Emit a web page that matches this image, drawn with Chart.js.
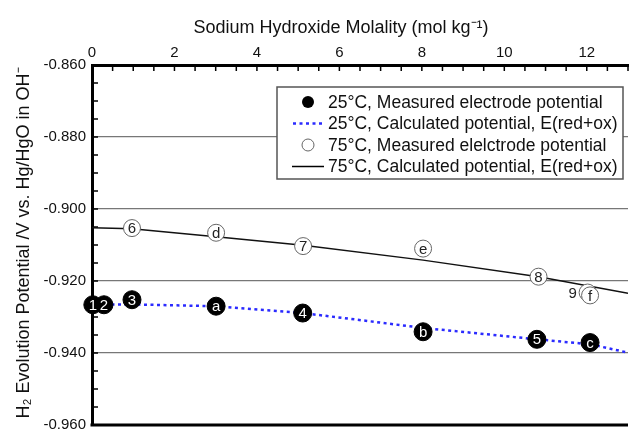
<!DOCTYPE html>
<html>
<head>
<meta charset="utf-8">
<script src="https://cdn.jsdelivr.net/npm/chart.js@4.4.0/dist/chart.umd.min.js"></script>
<style>
  html, body { margin: 0; padding: 0; background: #fff; }
</style>
</head>
<body>
<canvas id="chart" width="638" height="435"></canvas>
<script>
// tick labels
const xTicks = [0, 2, 4, 6, 8, 10, 12];
const yTicks = [-0.86, -0.88, -0.90, -0.92, -0.94, -0.96];

// 25°C measured electrode potential (filled circles)
const meas25X = [0.02, 0.29, 0.97, 3.01, 5.11, 8.03, 10.79, 12.08];
const meas25Y = [-0.9266, -0.9266, -0.9252, -0.9270, -0.9289, -0.9341, -0.9362, -0.9371];
const meas25Labels = ["1", "2", "3", "a", "4", "b", "5", "c"];

// 75°C measured electrode potential (open circles)
const meas75X = [0.97, 3.01, 5.12, 8.03, 10.83, 12.02, 12.08];
const meas75Y = [-0.9053, -0.9066, -0.9103, -0.9110, -0.9188, -0.9232, -0.9240];
const meas75Labels = ["6", "d", "7", "e", "8", "9", "f"];

// calculated potentials, E(red+ox)
const calc25X = [0, 0.3, 1, 3, 5.1, 6.4, 8, 10.8, 12.1, 13];
const calc25Y = [-0.9266, -0.9265, -0.9265, -0.9270, -0.9289, -0.9307, -0.9330, -0.9362, -0.9376, -0.9399];
const calc75X = [0, 0.97, 3.01, 5.12, 8.03, 10.83, 13];
const calc75Y = [-0.9052, -0.9055, -0.9077, -0.9101, -0.9142, -0.9188, -0.9234];

const legendLabels = [
  "25°C, Measured electrode potential",
  "25°C, Calculated potential, E(red+ox)",
  "75°C, Measured elelctrode potential",
  "75°C, Calculated potential, E(red+ox)"
];

const FONT = "'Liberation Sans', Arial, Helvetica, sans-serif";
const BLUE = "#2b2bff";

function toPoints(xs, ys) {
  return xs.map((x, i) => ({ x: x, y: ys[i] }));
}

// inward minor ticks, bottom frame line
const framePlugin = {
  id: "frame",
  beforeDatasetsDraw(chart) {
    const ctx = chart.ctx;
    const area = chart.chartArea;
    const xs = chart.scales.x;
    const ys = chart.scales.y;
    ctx.save();
    ctx.strokeStyle = "#000";
    ctx.lineWidth = 1.5;
    ctx.beginPath();
    for (let v = 0.5; v <= 13; v += 0.5) {
      const px = xs.getPixelForValue(v);
      ctx.moveTo(px, area.top);
      ctx.lineTo(px, area.top + 6);
    }
    for (let k = 1; k < 20; k++) {
      const py = ys.getPixelForValue(-0.86 - k * 0.005);
      ctx.moveTo(area.left, py);
      ctx.lineTo(area.left + 6, py);
    }
    ctx.stroke();
    ctx.lineWidth = 3;
    ctx.beginPath();
    ctx.moveTo(area.left - 1.5, area.bottom);
    ctx.lineTo(area.right, area.bottom);
    ctx.stroke();
    ctx.restore();
  }
};

// numbers / letters inside the circles
const pointLabelPlugin = {
  id: "pointLabels",
  afterDatasetsDraw(chart) {
    const ctx = chart.ctx;
    ctx.save();
    ctx.font = "15px " + FONT;
    ctx.textAlign = "center";
    ctx.textBaseline = "middle";
    chart.data.datasets.forEach((ds, di) => {
      if (!ds.pointLabels) return;
      const meta = chart.getDatasetMeta(di);
      meta.data.forEach((pt, i) => {
        const lab = ds.pointLabels[i];
        ctx.fillStyle = ds.labelColor;
        let dx = 0;
        if (lab === "9") { dx = -15; ctx.fillStyle = "#222"; }
        ctx.fillText(lab, pt.x + dx, pt.y + 1);
      });
    });
    ctx.restore();
  }
};

// axis titles and the boxed legend
const annotPlugin = {
  id: "annot",
  afterDraw(chart) {
    const ctx = chart.ctx;
    ctx.save();
    ctx.fillStyle = "#111";
    ctx.font = "18px " + FONT;
    ctx.textAlign = "center";
    ctx.textBaseline = "middle";
    ctx.fillText("Sodium Hydroxide Molality (mol kg\u207B\u00B9)", 341, 28);

    ctx.save();
    ctx.translate(24, 243);
    ctx.rotate(-Math.PI / 2);
    ctx.fillText("H\u2082 Evolution Potential /V vs. Hg/HgO in OH\u207B", 0, 0);
    ctx.restore();

    // legend
    const bx = 277, by = 87, bw = 346, bh = 92;
    ctx.fillStyle = "#fff";
    ctx.fillRect(bx, by, bw, bh);
    ctx.strokeStyle = "#555";
    ctx.lineWidth = 1.5;
    ctx.strokeRect(bx, by, bw, bh);

    const rowY = [102, 123.5, 145, 166.5];
    const symX = 308;
    ctx.font = "17.5px " + FONT;
    ctx.textAlign = "left";
    ctx.fillStyle = "#111";
    legendLabels.forEach((t, i) => ctx.fillText(t, 328, rowY[i] + 1));

    ctx.fillStyle = "#000";
    ctx.beginPath();
    ctx.arc(symX, rowY[0], 6, 0, Math.PI * 2);
    ctx.fill();

    ctx.strokeStyle = BLUE;
    ctx.lineWidth = 2.5;
    ctx.setLineDash([3, 3.5]);
    ctx.beginPath();
    ctx.moveTo(293, rowY[1]);
    ctx.lineTo(323, rowY[1]);
    ctx.stroke();
    ctx.setLineDash([]);

    ctx.strokeStyle = "#666";
    ctx.lineWidth = 1;
    ctx.beginPath();
    ctx.arc(symX, rowY[2], 6, 0, Math.PI * 2);
    ctx.stroke();

    ctx.strokeStyle = "#000";
    ctx.lineWidth = 1.5;
    ctx.beginPath();
    ctx.moveTo(292, rowY[3]);
    ctx.lineTo(324, rowY[3]);
    ctx.stroke();
    ctx.restore();
  }
};

new Chart(document.getElementById("chart"), {
  type: "scatter",
  data: {
    datasets: [
      {
        label: legendLabels[0],
        data: toPoints(meas25X, meas25Y),
        pointLabels: meas25Labels,
        labelColor: "#fff",
        pointRadius: 9,
        pointBackgroundColor: "#000",
        pointBorderColor: "#000",
        clip: false,
        order: 1
      },
      {
        label: legendLabels[1],
        data: toPoints(calc25X, calc25Y),
        showLine: true,
        pointRadius: 0,
        borderColor: BLUE,
        borderWidth: 2.5,
        borderDash: [3, 3.5],
        tension: 0,
        order: 3
      },
      {
        label: legendLabels[2],
        data: toPoints(meas75X, meas75Y),
        pointLabels: meas75Labels,
        labelColor: "#222",
        pointRadius: 8.5,
        pointBackgroundColor: "#fff",
        pointBorderColor: "#666",
        pointBorderWidth: 1,
        clip: false,
        order: 2
      },
      {
        label: legendLabels[3],
        data: toPoints(calc75X, calc75Y),
        showLine: true,
        pointRadius: 0,
        borderColor: "#111",
        borderWidth: 1.5,
        tension: 0,
        order: 4
      }
    ]
  },
  options: {
    responsive: false,
    animation: false,
    layout: { padding: { left: 0, top: 0, right: 0, bottom: 7 } },
    plugins: {
      legend: { display: false },
      tooltip: { enabled: false }
    },
    scales: {
      x: {
        type: "linear",
        position: "top",
        min: 0,
        max: 13,
        afterBuildTicks: s => { s.ticks = xTicks.map(v => ({ value: v })); },
        afterFit: s => { s.height = 65; s.paddingLeft = 0; s.paddingRight = 0; },
        grid: { display: false, drawTicks: false },
        border: { display: true, color: "#000", width: 3 },
        ticks: {
          padding: 3,
          color: "#111",
          font: { family: FONT, size: 15 },
          maxRotation: 0,
          autoSkip: false
        }
      },
      y: {
        type: "linear",
        min: -0.96,
        max: -0.86,
        afterBuildTicks: s => { s.ticks = yTicks.map(v => ({ value: v })); },
        afterFit: s => { s.width = 92; s.paddingTop = 0; s.paddingBottom = 0; },
        grid: { color: "#777", lineWidth: 1.2, drawTicks: false },
        border: { display: true, color: "#000", width: 3 },
        ticks: {
          padding: 6,
          color: "#111",
          font: { family: FONT, size: 15 },
          autoSkip: false,
          callback: v => v.toFixed(3)
        }
      }
    }
  },
  plugins: [framePlugin, pointLabelPlugin, annotPlugin]
});
</script>
</body>
</html>
